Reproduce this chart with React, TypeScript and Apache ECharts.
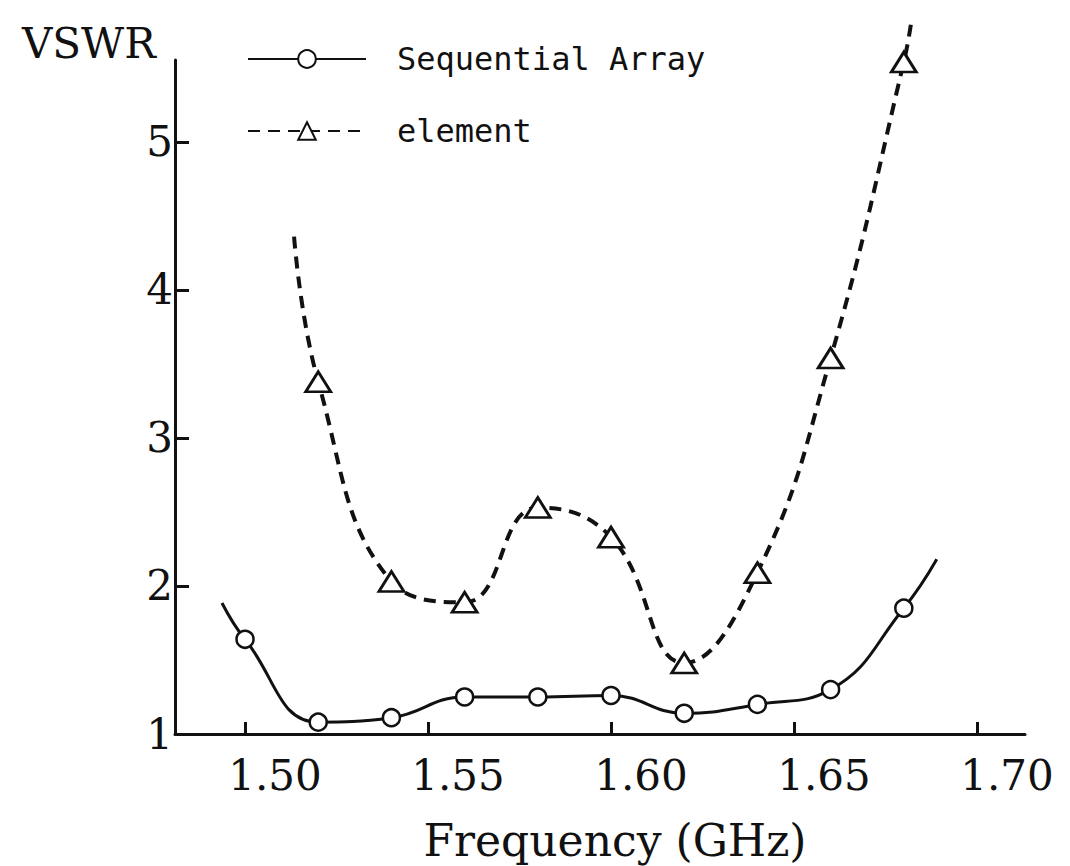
import React, { useEffect, useRef } from 'react';
import * as echarts from 'echarts';

// Tick labels
const frequencyTicks = [1.5, 1.55, 1.6, 1.65, 1.7];
const vswrTicks = [1, 2, 3, 4, 5];

// Sequential Array (circles)
const seqFreq = [1.5, 1.52, 1.54, 1.56, 1.58, 1.6, 1.62, 1.64, 1.66, 1.68];
const seqVswr = [1.64, 1.08, 1.11, 1.25, 1.25, 1.26, 1.14, 1.2, 1.3, 1.85];
const seqCurveStart = [1.4937, 1.885];
const seqCurveEnd = [1.689, 2.18];

// element (triangles)
const elemFreq = [1.52, 1.54, 1.56, 1.58, 1.6, 1.62, 1.64, 1.66, 1.68];
const elemVswr = [3.38, 2.03, 1.89, 2.53, 2.33, 1.48, 2.09, 3.54, 5.54];
const elemCurveStart = [1.5134, 4.36];
const elemCurveEnd = [1.6822, 5.84];

const INK = '#111111';

export default function App() {
  const ref = useRef<HTMLDivElement>(null);

  useEffect(() => {
    if (!ref.current) return;
    const chart = echarts.init(ref.current, undefined, { renderer: 'svg' });

    const seqData: any[] = [
      { value: seqCurveStart, symbol: 'none' },
      ...seqFreq.map((f, i) => [f, seqVswr[i]]),
      { value: seqCurveEnd, symbol: 'none' },
    ];
    const elemData: any[] = [
      { value: elemCurveStart, symbol: 'none' },
      ...elemFreq.map((f, i) => [f, elemVswr[i]]),
      { value: elemCurveEnd, symbol: 'none' },
    ];

    chart.setOption({
      animation: false,
      backgroundColor: '#ffffff',
      grid: { left: 175, top: 60, width: 850, height: 674, containLabel: false },
      legend: {
        orient: 'vertical',
        left: 242,
        top: 38,
        itemWidth: 118,
        itemHeight: 22,
        itemGap: 40,
        selectedMode: false,
        data: ['Sequential Array', 'element'],
        textStyle: {
          fontFamily: 'DejaVu Sans Mono',
          fontSize: 32,
          color: INK,
          padding: [0, 0, 0, 26],
        },
      },
      xAxis: {
        type: 'value',
        min: 1.48087,
        max: 1.71311,
        axisLine: { show: true, onZero: false, lineStyle: { color: INK, width: 3 } },
        axisTick: {
          show: true,
          inside: true,
          length: 12,
          customValues: frequencyTicks,
          lineStyle: { color: INK, width: 3 },
        },
        axisLabel: {
          customValues: frequencyTicks,
          formatter: (v: number) => v.toFixed(2),
          fontFamily: 'DejaVu Serif',
          fontSize: 42,
          color: INK,
          margin: 20,
          padding: [0, 0, 0, 60],
        },
        splitLine: { show: false },
      },
      yAxis: {
        type: 'value',
        min: 1,
        max: 5.554,
        axisLine: { show: true, onZero: false, lineStyle: { color: INK, width: 3 } },
        axisTick: {
          show: true,
          inside: true,
          length: 14,
          customValues: vswrTicks,
          lineStyle: { color: INK, width: 3 },
        },
        axisLabel: {
          customValues: vswrTicks,
          fontFamily: 'DejaVu Serif',
          fontSize: 42,
          color: INK,
          margin: 2,
        },
        splitLine: { show: false },
      },
      graphic: [
        {
          type: 'text',
          left: 22,
          top: 22,
          style: {
            text: 'VSWR',
            fontFamily: 'DejaVu Serif',
            fontSize: 42,
            fill: INK,
          },
        },
        {
          type: 'text',
          x: 615,
          y: 840,
          style: {
            text: 'Frequency (GHz)',
            fontFamily: 'DejaVu Serif',
            fontSize: 44,
            fill: INK,
            textAlign: 'center',
            textVerticalAlign: 'middle',
          },
        },
      ],
      series: [
        {
          name: 'Sequential Array',
          type: 'line',
          smooth: 0.45,
          clip: false,
          symbol: 'circle',
          symbolSize: 17,
          color: INK,
          lineStyle: { color: INK, width: 3 },
          itemStyle: { color: '#ffffff', borderColor: INK, borderWidth: 2.5 },
          emphasis: { disabled: true },
          data: seqData,
          z: 3,
        },
        {
          name: 'element',
          type: 'line',
          smooth: 0.45,
          clip: false,
          symbol: 'triangle',
          symbolSize: [25, 20],
          color: INK,
          lineStyle: { color: INK, width: 4, type: [12, 8] },
          itemStyle: { color: '#ffffff', borderColor: INK, borderWidth: 2.8 },
          emphasis: { disabled: true },
          data: elemData,
          z: 2,
        },
      ],
    });

    return () => chart.dispose();
  }, []);

  return (
    <div
      ref={ref}
      style={{ position: 'fixed', left: 0, top: 0, width: 1070, height: 866, background: '#fff' }}
    />
  );
}
